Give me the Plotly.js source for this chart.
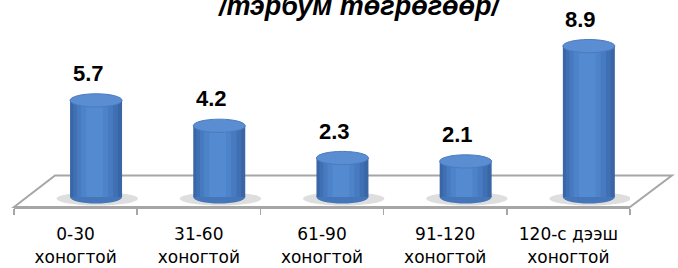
<!DOCTYPE html>
<html><head><meta charset="utf-8">
<script src="https://cdn.plot.ly/plotly-3.0.1.min.js"></script>
<style>html,body{margin:0;padding:0;background:#fff}#chart{width:678px;height:268px}</style>
</head><body><div id="chart"></div>
<script>
// ---- data ----
const categories = ['0-30', '31-60', '61-90', '91-120', '120-с дээш'];
const unitLabels = ['хоногтой', 'хоногтой', 'хоногтой', 'хоногтой', 'хоногтой'];
const values = [5.7, 4.2, 2.3, 2.1, 8.9];
const valueLabels = ['5.7', '4.2', '2.3', '2.1', '8.9'];
const titleText = '/тэрбум төгрөгөөр/';

// ---- styling / geometry (not data) ----
const xCats = categories.map((c, i) => c + '<br>' + unitLabels[i]);
const shiftU = 0.166;      // depth offset of cylinders (category units)
const barW = 0.422;        // cylinder width
const hw = barW / 2;
const ellH = 0.39;         // half-height of ellipses in y units
const layers = [
  {f: 1.00, c: 0.00, col: '#3A66A6'},
  {f: 0.86, c: -0.01, col: '#4070B4'},
  {f: 0.70, c: -0.02, col: '#477AC0'},
  {f: 0.52, c: -0.03, col: '#4D83C9'},
  {f: 0.32, c: -0.03, col: '#538AD0'}
];
const traces = layers.map(L => ({
  type: 'bar', x: xCats, y: values,
  width: barW * L.f,
  offset: shiftU - barW * L.f / 2 + L.c * barW,
  marker: {color: L.col, line: {width: 0}},
  hoverinfo: 'skip', showlegend: false
}));

const shapes = [];
// floor
shapes.push({type: 'path', xref: 'paper', yref: 'paper', layer: 'below',
  path: 'M 0,0 L 0.0666,0.152 L 1.068,0.152 L 1,0 Z',
  fillcolor: '#ffffff', line: {color: '#a6a6a6', width: 2}});
values.forEach((v, i) => {
  const c = i + shiftU;
  shapes.push({type: 'circle', xref: 'x', yref: 'y', layer: 'below',
    x0: c - hw - 0.11, x1: c + hw + 0.13, y0: -0.5, y1: 0.3,
    fillcolor: 'rgba(0,0,0,0.13)', line: {width: 0}});
  shapes.push({type: 'circle', xref: 'x', yref: 'y', layer: 'below',
    x0: c - hw, x1: c + hw, y0: -ellH, y1: ellH,
    fillcolor: '#4576B9', line: {width: 0}});
  shapes.push({type: 'circle', xref: 'x', yref: 'y', layer: 'above',
    x0: c - hw, x1: c + hw, y0: v - ellH, y1: v + ellH,
    fillcolor: '#5B8DD3', line: {color: '#4A7BBE', width: 1}});
});

const annotations = values.map((v, i) => ({
  x: i + shiftU - 0.065, y: v, xref: 'x', yref: 'y', yshift: 27,
  text: valueLabels[i], showarrow: false, xanchor: 'center', yanchor: 'middle',
  font: {family: 'Liberation Sans, Arial, sans-serif', size: 22, weight: 'bold', color: '#000'}
}));

const layout = {
  width: 678, height: 268,
  margin: {l: 14, r: 48, t: 0, b: 61, pad: 0},
  paper_bgcolor: '#ffffff', plot_bgcolor: 'rgba(0,0,0,0)',
  barmode: 'overlay', showlegend: false,
  title: {text: titleText, x: 359 / 678, xanchor: 'center', yref: 'container',
    y: 1 - 15 / 268, yanchor: 'bottom',
    font: {family: 'Liberation Sans, Arial, sans-serif', size: 27, weight: 'bold', style: 'italic', color: '#000'}},
  xaxis: {type: 'category', range: [-0.5, 4.5], showline: true, linecolor: '#a6a6a6', linewidth: 2,
    ticks: 'outside', ticklen: 6, tickwidth: 1.5, tickcolor: '#a6a6a6', tickson: 'boundaries',
    ticklabelstandoff: 11,
    showgrid: false, zeroline: false, fixedrange: true,
    tickfont: {family: 'DejaVu Sans', size: 17, color: '#000'}},
  yaxis: {range: [-0.59, 11.62], visible: false, fixedrange: true},
  shapes: shapes, annotations: annotations
};
Plotly.newPlot('chart', traces, layout, {displayModeBar: false, staticPlot: true});
</script></body></html>
